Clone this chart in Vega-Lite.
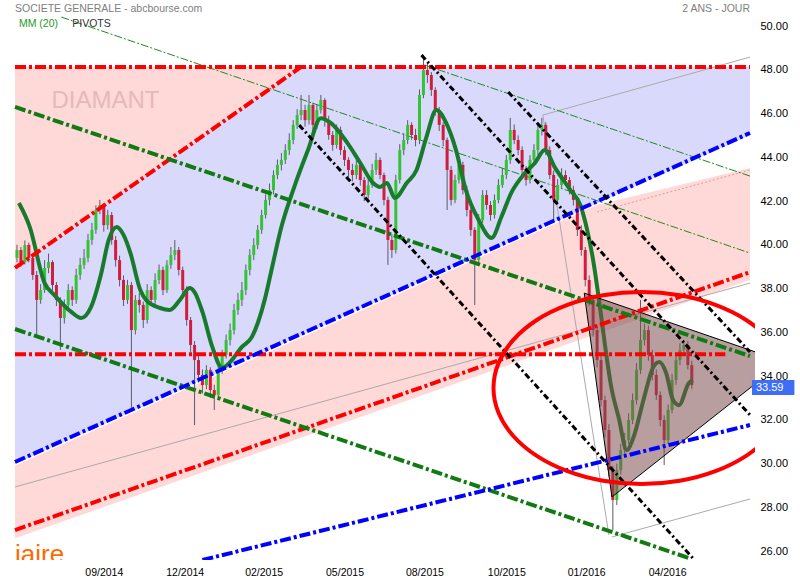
{
"$schema":"https://vega.github.io/schema/vega-lite/v6.json",
"width":745,"height":560,
"autosize":{"type":"none"},
"padding":{"left":10,"top":0,"right":45,"bottom":20},
"background":"white",
"config":{"view":{"stroke":null},"axis":{"labelFont":"Liberation Sans"},"text":{"font":"Liberation Sans"}},
"datasets":{
"candles":[
{"t":2,"o":39.40,"h":40.0,"l":39.2,"c":39.76},{"t":6,"o":39.76,"h":39.9,"l":39.0,"c":39.21},{"t":10,"o":39.21,"h":40.2,"l":39.1,"c":39.99},{"t":14,"o":39.99,"h":40.1,"l":39.2,"c":39.40},{"t":18,"o":39.40,"h":39.5,"l":38.4,"c":38.62},{"t":22,"o":38.62,"h":38.8,"l":35.88,"c":37.48},{"t":26,"o":37.48,"h":38.2,"l":37.3,"c":37.93},{"t":30,"o":37.93,"h":39.3,"l":37.8,"c":38.94},{"t":34,"o":38.94,"h":39.6,"l":38.7,"c":39.21},{"t":38,"o":39.21,"h":39.3,"l":37.9,"c":38.16},
{"t":42,"o":38.16,"h":38.3,"l":37.2,"c":37.48},{"t":46,"o":37.48,"h":37.6,"l":35.19,"c":36.65},{"t":50,"o":36.65,"h":37.5,"l":36.4,"c":37.25},{"t":54,"o":37.25,"h":38.2,"l":37.1,"c":37.93},{"t":58,"o":37.93,"h":38.1,"l":37.2,"c":37.48},{"t":62,"o":37.48,"h":38.9,"l":37.3,"c":38.62},{"t":66,"o":38.62,"h":39.4,"l":38.4,"c":39.08},{"t":70,"o":39.08,"h":39.8,"l":38.9,"c":39.40},{"t":74,"o":39.40,"h":40.5,"l":39.2,"c":40.22},{"t":78,"o":40.22,"h":41.0,"l":40.0,"c":40.68},
{"t":82,"o":40.68,"h":41.8,"l":40.5,"c":41.59},{"t":86,"o":41.59,"h":42.05,"l":41.4,"c":41.82},{"t":90,"o":41.82,"h":41.9,"l":40.6,"c":40.90},{"t":94,"o":40.90,"h":41.6,"l":40.7,"c":41.36},{"t":98,"o":41.36,"h":41.5,"l":40.0,"c":40.22},{"t":102,"o":40.22,"h":40.4,"l":39.0,"c":39.30},{"t":106,"o":39.30,"h":39.5,"l":38.1,"c":38.39},{"t":110,"o":38.39,"h":38.6,"l":37.2,"c":37.48},{"t":114,"o":37.48,"h":38.4,"l":37.3,"c":38.16},{"t":118,"o":38.16,"h":38.3,"l":32.54,"c":36.10},
{"t":122,"o":36.10,"h":37.7,"l":35.9,"c":37.48},{"t":126,"o":37.48,"h":37.8,"l":36.9,"c":37.25},{"t":130,"o":37.25,"h":37.4,"l":36.2,"c":36.56},{"t":134,"o":36.56,"h":38.2,"l":36.4,"c":37.93},{"t":138,"o":37.93,"h":38.1,"l":37.2,"c":37.48},{"t":142,"o":37.48,"h":38.7,"l":37.3,"c":38.39},{"t":146,"o":38.39,"h":39.1,"l":38.2,"c":38.85},{"t":150,"o":38.85,"h":39.0,"l":37.7,"c":37.93},{"t":154,"o":37.93,"h":39.3,"l":37.8,"c":39.08},{"t":158,"o":39.08,"h":39.9,"l":38.9,"c":39.53},
{"t":162,"o":39.53,"h":40.22,"l":39.3,"c":39.76},{"t":166,"o":39.76,"h":39.9,"l":38.6,"c":38.85},{"t":170,"o":38.85,"h":39.0,"l":37.7,"c":37.93},{"t":174,"o":37.93,"h":38.1,"l":36.3,"c":36.56},{"t":178,"o":36.56,"h":36.7,"l":35.1,"c":35.42},{"t":182,"o":35.42,"h":35.6,"l":31.76,"c":34.73},{"t":186,"o":34.73,"h":35.0,"l":33.7,"c":34.05},{"t":190,"o":34.05,"h":34.3,"l":33.2,"c":33.59},{"t":194,"o":33.59,"h":34.5,"l":33.4,"c":34.28},{"t":198,"o":34.28,"h":34.4,"l":33.0,"c":33.36},
{"t":202,"o":33.36,"h":33.6,"l":32.45,"c":33.13},{"t":206,"o":33.13,"h":34.5,"l":33.0,"c":34.28},{"t":210,"o":34.28,"h":35.2,"l":34.1,"c":34.96},{"t":214,"o":34.96,"h":35.9,"l":34.8,"c":35.65},{"t":218,"o":35.65,"h":36.4,"l":35.4,"c":36.10},{"t":222,"o":36.10,"h":37.3,"l":35.9,"c":37.02},{"t":226,"o":37.02,"h":37.8,"l":36.8,"c":37.48},{"t":230,"o":37.48,"h":38.3,"l":37.2,"c":37.93},{"t":234,"o":37.93,"h":39.1,"l":37.7,"c":38.85},{"t":238,"o":38.85,"h":39.8,"l":38.6,"c":39.53},
{"t":242,"o":39.53,"h":40.3,"l":39.3,"c":39.99},{"t":246,"o":39.99,"h":40.9,"l":39.8,"c":40.68},{"t":250,"o":40.68,"h":41.6,"l":40.5,"c":41.36},{"t":254,"o":41.36,"h":42.3,"l":41.2,"c":42.05},{"t":258,"o":42.05,"h":42.8,"l":41.8,"c":42.50},{"t":262,"o":42.50,"h":43.4,"l":42.3,"c":43.19},{"t":266,"o":43.19,"h":43.9,"l":43.0,"c":43.65},{"t":270,"o":43.65,"h":44.2,"l":43.4,"c":43.88},{"t":274,"o":43.88,"h":44.6,"l":43.7,"c":44.33},{"t":278,"o":44.33,"h":45.1,"l":44.1,"c":44.79},
{"t":282,"o":44.79,"h":45.7,"l":44.6,"c":45.48},{"t":286,"o":45.48,"h":46.2,"l":45.3,"c":45.93},{"t":290,"o":45.93,"h":46.85,"l":45.7,"c":46.16},{"t":294,"o":46.16,"h":46.4,"l":45.4,"c":45.70},{"t":298,"o":45.70,"h":46.85,"l":45.5,"c":46.39},{"t":302,"o":46.39,"h":46.5,"l":45.2,"c":45.48},{"t":306,"o":45.48,"h":46.4,"l":45.3,"c":46.16},{"t":310,"o":46.16,"h":46.85,"l":46.0,"c":46.62},{"t":314,"o":46.62,"h":46.7,"l":45.4,"c":45.70},{"t":318,"o":45.70,"h":45.9,"l":44.8,"c":45.02},
{"t":322,"o":45.02,"h":45.2,"l":44.3,"c":44.56},{"t":326,"o":44.56,"h":45.5,"l":44.4,"c":45.25},{"t":330,"o":45.25,"h":45.4,"l":44.1,"c":44.33},{"t":334,"o":44.33,"h":44.5,"l":43.6,"c":43.88},{"t":338,"o":43.88,"h":44.0,"l":43.1,"c":43.42},{"t":342,"o":43.42,"h":43.7,"l":42.9,"c":43.19},{"t":346,"o":43.19,"h":43.9,"l":43.0,"c":43.65},{"t":350,"o":43.65,"h":43.8,"l":42.7,"c":42.96},{"t":354,"o":42.96,"h":43.1,"l":42.0,"c":42.28},{"t":358,"o":42.28,"h":43.0,"l":42.1,"c":42.73},
{"t":362,"o":42.73,"h":43.7,"l":42.6,"c":43.42},{"t":366,"o":43.42,"h":44.2,"l":43.2,"c":43.88},{"t":370,"o":43.88,"h":44.0,"l":43.0,"c":43.19},{"t":374,"o":43.19,"h":43.3,"l":41.8,"c":42.05},{"t":378,"o":42.05,"h":42.2,"l":39.08,"c":40.22},{"t":382,"o":40.22,"h":40.5,"l":39.4,"c":39.76},{"t":386,"o":39.76,"h":43.2,"l":39.6,"c":42.96},{"t":390,"o":42.96,"h":44.6,"l":42.8,"c":44.33},{"t":394,"o":44.33,"h":45.1,"l":44.1,"c":44.79},{"t":398,"o":44.79,"h":45.7,"l":44.6,"c":45.48},
{"t":402,"o":45.48,"h":45.6,"l":44.8,"c":45.02},{"t":406,"o":45.02,"h":45.3,"l":44.5,"c":44.79},{"t":410,"o":44.79,"h":47.1,"l":44.6,"c":46.85},{"t":414,"o":46.85,"h":48.68,"l":46.7,"c":47.99},{"t":418,"o":47.99,"h":48.3,"l":47.4,"c":47.76},{"t":422,"o":47.76,"h":47.9,"l":46.8,"c":47.08},{"t":426,"o":47.08,"h":47.2,"l":45.9,"c":46.16},{"t":430,"o":46.16,"h":46.3,"l":45.2,"c":45.48},{"t":434,"o":45.48,"h":45.6,"l":44.5,"c":44.79},{"t":438,"o":44.79,"h":44.9,"l":41.59,"c":43.42},
{"t":442,"o":43.42,"h":43.6,"l":41.8,"c":42.05},{"t":446,"o":42.05,"h":43.2,"l":41.9,"c":42.96},{"t":450,"o":42.96,"h":43.9,"l":42.8,"c":43.65},{"t":454,"o":43.65,"h":43.8,"l":42.3,"c":42.50},{"t":458,"o":42.50,"h":42.7,"l":41.3,"c":41.59},{"t":462,"o":41.59,"h":41.8,"l":40.4,"c":40.68},{"t":466,"o":40.68,"h":40.8,"l":37.25,"c":39.30},{"t":470,"o":39.30,"h":41.4,"l":39.1,"c":41.13},{"t":474,"o":41.13,"h":42.5,"l":41.0,"c":42.28},{"t":478,"o":42.28,"h":42.5,"l":41.6,"c":41.82},
{"t":482,"o":41.82,"h":42.0,"l":41.1,"c":41.36},{"t":486,"o":41.36,"h":42.3,"l":41.2,"c":42.05},{"t":490,"o":42.05,"h":43.0,"l":41.9,"c":42.73},{"t":494,"o":42.73,"h":43.5,"l":42.6,"c":43.19},{"t":498,"o":43.19,"h":44.1,"l":43.0,"c":43.88},{"t":502,"o":43.88,"h":45.8,"l":43.7,"c":45.25},{"t":506,"o":45.25,"h":45.5,"l":44.6,"c":44.79},{"t":510,"o":44.79,"h":45.0,"l":44.1,"c":44.33},{"t":514,"o":44.33,"h":44.5,"l":43.2,"c":43.42},{"t":518,"o":43.42,"h":43.6,"l":42.7,"c":42.96},
{"t":522,"o":42.96,"h":44.1,"l":42.8,"c":43.88},{"t":526,"o":43.88,"h":44.6,"l":43.7,"c":44.33},{"t":530,"o":44.33,"h":45.5,"l":44.1,"c":45.25},{"t":534,"o":45.25,"h":45.8,"l":45.0,"c":45.48},{"t":538,"o":45.48,"h":45.6,"l":44.1,"c":44.33},{"t":542,"o":44.33,"h":44.5,"l":43.0,"c":43.19},{"t":546,"o":43.19,"h":43.4,"l":41.13,"c":42.05},{"t":550,"o":42.05,"h":43.0,"l":41.9,"c":42.73},{"t":554,"o":42.73,"h":43.5,"l":42.6,"c":43.19},{"t":558,"o":43.19,"h":43.4,"l":42.7,"c":42.96},
{"t":562,"o":42.96,"h":43.1,"l":42.3,"c":42.50},{"t":566,"o":42.50,"h":42.7,"l":41.8,"c":42.05},{"t":570,"o":42.05,"h":42.2,"l":40.4,"c":40.68},{"t":574,"o":40.68,"h":40.9,"l":39.5,"c":39.76},{"t":578,"o":39.76,"h":39.9,"l":38.1,"c":38.39},{"t":582,"o":38.39,"h":38.6,"l":37.2,"c":37.48},{"t":586,"o":37.48,"h":37.7,"l":35.8,"c":36.10},{"t":590,"o":36.10,"h":36.3,"l":34.4,"c":34.73},{"t":594,"o":34.73,"h":35.0,"l":32.6,"c":32.90},{"t":598,"o":32.90,"h":33.1,"l":31.2,"c":31.53},
{"t":602,"o":31.53,"h":31.8,"l":29.4,"c":29.70},{"t":606,"o":29.70,"h":29.9,"l":26.96,"c":28.33},{"t":610,"o":28.33,"h":30.0,"l":28.1,"c":29.70},{"t":614,"o":29.70,"h":30.9,"l":29.5,"c":30.62},{"t":618,"o":30.62,"h":31.4,"l":30.4,"c":31.07},{"t":622,"o":31.07,"h":32.3,"l":30.9,"c":31.99},{"t":626,"o":31.99,"h":33.2,"l":31.8,"c":32.90},{"t":630,"o":32.90,"h":34.6,"l":32.7,"c":34.28},{"t":634,"o":34.28,"h":37.48,"l":34.1,"c":35.65},{"t":638,"o":35.65,"h":36.4,"l":35.4,"c":36.10},
{"t":642,"o":36.10,"h":36.3,"l":34.7,"c":34.96},{"t":646,"o":34.96,"h":35.2,"l":33.8,"c":34.05},{"t":650,"o":34.05,"h":34.3,"l":32.9,"c":33.13},{"t":654,"o":33.13,"h":33.3,"l":31.7,"c":31.99},{"t":658,"o":31.99,"h":32.2,"l":29.93,"c":31.07},{"t":662,"o":31.07,"h":32.7,"l":30.9,"c":32.45},{"t":666,"o":32.45,"h":34.1,"l":32.3,"c":33.82},{"t":670,"o":33.82,"h":35.0,"l":33.6,"c":34.73},{"t":674,"o":34.73,"h":35.5,"l":34.5,"c":35.19},{"t":678,"o":35.19,"h":35.65,"l":35.0,"c":35.42},
{"t":682,"o":35.42,"h":35.6,"l":34.3,"c":34.50},{"t":686,"o":34.50,"h":34.7,"l":33.4,"c":33.59}
],
"ma":[
{"t":4,"p":41.91},{"t":15,"p":40.81},{"t":30,"p":38.25},{"t":40,"p":37.70},{"t":57,"p":36.93},{"t":67,"p":36.65},{"t":77,"p":37.15},{"t":87,"p":38.62},{"t":95,"p":40.22},{"t":103,"p":40.81},{"t":110,"p":40.45},{"t":117,"p":39.62},{"t":127,"p":37.93},{"t":133,"p":37.47},{"t":147,"p":37.11},{"t":157,"p":37.02},{"t":167,"p":37.47},{"t":177,"p":38.02},{"t":182,"p":37.84},{"t":190,"p":36.93},{"t":200,"p":35.33},{"t":210,"p":34.37},{"t":217,"p":34.59},{"t":230,"p":35.33},{"t":240,"p":35.78},{"t":253,"p":37.47},{"t":260,"p":38.85},{"t":270,"p":40.81},{"t":283,"p":42.64},{"t":297,"p":44.33},{"t":310,"p":45.79},{"t":320,"p":45.57},{"t":337,"p":44.65},{"t":350,"p":43.74},{"t":363,"p":42.82},{"t":370,"p":42.64},{"t":377,"p":42.82},{"t":385,"p":42.14},{"t":397,"p":42.82},{"t":407,"p":43.42},{"t":417,"p":44.92},{"t":427,"p":46.16},{"t":437,"p":45.57},{"t":447,"p":44.33},{"t":457,"p":42.50},{"t":470,"p":41.13},{"t":483,"p":40.31},{"t":493,"p":41.27},{"t":503,"p":42.37},{"t":517,"p":43.28},{"t":527,"p":43.74},{"t":537,"p":44.33},{"t":547,"p":43.55},{"t":563,"p":42.50},{"t":573,"p":41.82},{"t":580,"p":40.67},{"t":586,"p":39.30},{"t":592,"p":37.47},{"t":598,"p":35.42},{"t":604,"p":33.59},{"t":612,"p":32.08},{"t":620,"p":30.62},{"t":627,"p":31.21},{"t":637,"p":32.90},{"t":647,"p":34.41},{"t":653,"p":34.64},{"t":660,"p":34.14},{"t":667,"p":32.90},{"t":673,"p":32.67},{"t":683,"p":33.68},{"t":687,"p":33.82}
],
"lines":[
{"id":"rTop","g":"red","t":0,"p":48.13},{"id":"rTop","g":"red","t":745,"p":48.13},
{"id":"rH","g":"red","t":0,"p":35.0},{"id":"rH","g":"red","t":720,"p":35.0},
{"id":"rU1","g":"red","t":0,"p":38.94},{"id":"rU1","g":"red","t":290,"p":48.13},
{"id":"rU2","g":"red","t":0,"p":26.96},{"id":"rU2","g":"red","t":745,"p":38.75},
{"id":"b1","g":"blue","t":0,"p":30.07},{"id":"b1","g":"blue","t":745,"p":45.11},
{"id":"b2","g":"blue","t":190,"p":25.59},{"id":"b2","g":"blue","t":745,"p":31.76},
{"id":"g1","g":"green","t":0,"p":46.30},{"id":"g1","g":"green","t":745,"p":34.91},
{"id":"g2","g":"green","t":0,"p":36.15},{"id":"g2","g":"green","t":683,"p":25.68},
{"id":"k1","g":"black","t":412,"p":48.67},{"id":"k1","g":"black","t":745,"p":32.22},
{"id":"k2","g":"black","t":500,"p":46.98},{"id":"k2","g":"black","t":745,"p":35.10},
{"id":"k3","g":"black","t":288,"p":45.47},{"id":"k3","g":"black","t":687,"p":25.68},
{"id":"t1","g":"tgreen","t":47,"p":50.41},{"id":"t1","g":"tgreen","t":745,"p":39.62},
{"id":"t2","g":"tgreen","t":415,"p":48.22},{"id":"t2","g":"tgreen","t":745,"p":43.14},
{"id":"gr1","g":"grey","t":535,"p":45.93},{"id":"gr1","g":"grey","t":745,"p":48.58},
{"id":"gr2","g":"grey","t":535,"p":45.93},{"id":"gr2","g":"grey","t":602,"p":26.73},
{"id":"gr3","g":"grey","t":605,"p":26.64},{"id":"gr3","g":"grey","t":745,"p":28.38},
{"id":"gr4","g":"grey","t":0,"p":28.93},{"id":"gr4","g":"grey","t":745,"p":38.25},
{"id":"gr5","g":"pinkdot","t":590,"p":41.50},{"id":"gr5","g":"pinkdot","t":745,"p":43.42}
],
"bands":[
{"id":"pinkTri","t":0,"top":48.13,"bot":38.94},{"id":"pinkTri","t":290,"top":48.13,"bot":48.13},
{"id":"lav","t":0,"top":38.94,"bot":29.98},{"id":"lav","t":290,"top":48.13,"bot":35.85},{"id":"lav","t":745,"top":48.13,"bot":45.02},
{"id":"pinkBand","t":0,"top":29.9,"bot":26.59},{"id":"pinkBand","t":590,"top":41.82,"bot":35.93},{"id":"pinkBand","t":745,"top":43.51,"bot":38.39}
],
"tri":[
{"k":0,"t":577,"top":37.79,"bot":37.79,"p":37.79},{"k":1,"t":779,"top":34.66,"bot":34.66,"p":34.66},{"k":2,"t":605,"top":37.36,"bot":28.47,"p":28.47}
],
"ellipse":[
{"k":0,"t":785,"p":33.45},{"k":1,"t":779.9,"p":32.32},{"k":2,"t":764.9,"p":31.26},{"k":3,"t":741.1,"p":30.35},{"k":4,"t":710,"p":29.65},{"k":5,"t":673.8,"p":29.21},{"k":6,"t":635,"p":29.06},{"k":7,"t":596.2,"p":29.21},{"k":8,"t":560,"p":29.65},{"k":9,"t":528.9,"p":30.35},{"k":10,"t":505.1,"p":31.26},{"k":11,"t":490.1,"p":32.32},{"k":12,"t":485,"p":33.45},{"k":13,"t":490.1,"p":34.59},{"k":14,"t":505.1,"p":35.65},{"k":15,"t":528.9,"p":36.56},{"k":16,"t":560,"p":37.25},{"k":17,"t":596.2,"p":37.69},{"k":18,"t":635,"p":37.84},{"k":19,"t":673.8,"p":37.69},{"k":20,"t":710,"p":37.25},{"k":21,"t":741.1,"p":36.56},{"k":22,"t":764.9,"p":35.65},{"k":23,"t":779.9,"p":34.59}
]
},
"encoding":{
"x":{"field":"t","type":"quantitative","scale":{"domain":[0,745],"nice":false,"zero":false},
 "axis":{"orient":"bottom","values":[90,172,252,334,415,498,579,661],"labelExpr":"datum.value==90?'09/2014':datum.value==172?'12/2014':datum.value==252?'02/2015':datum.value==334?'05/2015':datum.value==415?'08/2015':datum.value==498?'10/2015':datum.value==579?'01/2016':'04/2016'","domain":false,"ticks":false,"grid":false,"labelPadding":7,"labelFontSize":10.5,"labelColor":"#000000","title":null,"labelFlush":false}},
"y":{"field":"p","type":"quantitative","scale":{"domain":[25.59,51.19],"nice":false,"zero":false},
 "axis":{"orient":"right","values":[26,28,30,32,34,36,38,40,42,44,46,48,50],"format":".2f","domain":false,"ticks":false,"grid":false,"labelPadding":5,"labelFontSize":11,"labelColor":"#000000","title":null}}
},
"layer":[
{"data":{"name":"bands"},"transform":[{"filter":"datum.id=='pinkTri'"}],"mark":{"type":"area","color":"#ffd8d8","opacity":1,"clip":true},"encoding":{"y":{"field":"top","type":"quantitative","scale":{"domain":[25.59,51.19],"nice":false,"zero":false},"axis":{"orient":"right","values":[26,28,30,32,34,36,38,40,42,44,46,48,50],"format":".2f","domain":false,"ticks":false,"grid":false,"labelPadding":5,"labelFontSize":11,"labelColor":"#000000","title":null}},"y2":{"field":"bot"}}},
{"data":{"name":"bands"},"transform":[{"filter":"datum.id=='lav'"}],"mark":{"type":"area","color":"#d9d9fb","opacity":1,"clip":true},"encoding":{"y":{"field":"top","type":"quantitative","scale":{"domain":[25.59,51.19],"nice":false,"zero":false},"axis":{"orient":"right","values":[26,28,30,32,34,36,38,40,42,44,46,48,50],"format":".2f","domain":false,"ticks":false,"grid":false,"labelPadding":5,"labelFontSize":11,"labelColor":"#000000","title":null}},"y2":{"field":"bot"}}},
{"data":{"name":"bands"},"transform":[{"filter":"datum.id=='pinkBand'"}],"mark":{"type":"area","color":"#ffd8d8","opacity":1,"clip":true},"encoding":{"y":{"field":"top","type":"quantitative","scale":{"domain":[25.59,51.19],"nice":false,"zero":false},"axis":{"orient":"right","values":[26,28,30,32,34,36,38,40,42,44,46,48,50],"format":".2f","domain":false,"ticks":false,"grid":false,"labelPadding":5,"labelFontSize":11,"labelColor":"#000000","title":null}},"y2":{"field":"bot"}}},
{"data":{"values":[{"t":37,"p":46.58,"s":"DIAMANT"}]},"mark":{"type":"text","align":"left","baseline":"middle","fontSize":24,"color":"#e6b8b8"},"encoding":{"text":{"field":"s"}}},
{"data":{"name":"lines"},"transform":[{"filter":"datum.g=='grey'"}],"mark":{"type":"line","color":"#aaaaaa","strokeWidth":1,"clip":true},"encoding":{"detail":{"field":"id"}}},
{"data":{"name":"lines"},"transform":[{"filter":"datum.g=='pinkdot'"}],"mark":{"type":"line","color":"#d9a0a0","strokeWidth":1,"strokeDash":[2,2],"clip":true},"encoding":{"detail":{"field":"id"}}},
{"data":{"name":"lines"},"transform":[{"filter":"datum.g=='tgreen'"}],"mark":{"type":"line","color":"#1f8a1f","strokeWidth":1,"strokeDash":[8,2,2,2],"clip":true},"encoding":{"detail":{"field":"id"}}},
{"data":{"name":"candles"},"mark":{"type":"rule","color":"#5a5a6e","strokeWidth":1},"encoding":{"y":{"field":"l","type":"quantitative","scale":{"domain":[25.59,51.19],"nice":false,"zero":false},"axis":{"orient":"right","values":[26,28,30,32,34,36,38,40,42,44,46,48,50],"format":".2f","domain":false,"ticks":false,"grid":false,"labelPadding":5,"labelFontSize":11,"labelColor":"#000000","title":null}},"y2":{"field":"h"}}},
{"data":{"name":"candles"},"mark":{"type":"bar","width":3},"encoding":{"y":{"field":"o","type":"quantitative","scale":{"domain":[25.59,51.19],"nice":false,"zero":false},"axis":{"orient":"right","values":[26,28,30,32,34,36,38,40,42,44,46,48,50],"format":".2f","domain":false,"ticks":false,"grid":false,"labelPadding":5,"labelFontSize":11,"labelColor":"#000000","title":null}},"y2":{"field":"c"},"color":{"condition":{"test":"datum.c>=datum.o","value":"#33c433"},"value":"#d11c3c"}}},
{"data":{"name":"ma"},"mark":{"type":"line","color":"#187a2c","strokeWidth":4,"interpolate":"monotone"}},
{"data":{"name":"tri"},"mark":{"type":"area","color":"#7d4f4f","opacity":0.55,"clip":true},"encoding":{"y":{"field":"top","type":"quantitative","scale":{"domain":[25.59,51.19],"nice":false,"zero":false},"axis":{"orient":"right","values":[26,28,30,32,34,36,38,40,42,44,46,48,50],"format":".2f","domain":false,"ticks":false,"grid":false,"labelPadding":5,"labelFontSize":11,"labelColor":"#000000","title":null}},"y2":{"field":"bot"}}},
{"data":{"name":"tri"},"mark":{"type":"line","color":"#000000","strokeWidth":1,"interpolate":"linear-closed","clip":true},"encoding":{"order":{"field":"k"}}},
{"data":{"name":"lines"},"transform":[{"filter":"datum.g=='red'"}],"mark":{"type":"line","color":"#ff0000","strokeWidth":4,"strokeDash":[11,3,3,3],"clip":true},"encoding":{"detail":{"field":"id"}}},
{"data":{"name":"lines"},"transform":[{"filter":"datum.g=='green'"}],"mark":{"type":"line","color":"#127a12","strokeWidth":4,"strokeDash":[11,3,3,3],"clip":true},"encoding":{"detail":{"field":"id"}}},
{"data":{"name":"lines"},"transform":[{"filter":"datum.g=='blue'"}],"mark":{"type":"line","color":"#0000ff","strokeWidth":4,"strokeDash":[11,3,3,3],"clip":true},"encoding":{"detail":{"field":"id"}}},
{"data":{"name":"lines"},"transform":[{"filter":"datum.g=='black'"}],"mark":{"type":"line","color":"#000000","strokeWidth":3,"strokeDash":[6,3,2,3],"clip":true},"encoding":{"detail":{"field":"id"}}},
{"data":{"name":"ellipse"},"mark":{"type":"line","color":"#ff0000","strokeWidth":4,"interpolate":"cardinal-closed","clip":true},"encoding":{"order":{"field":"k"}}},
{"data":{"values":[{"t":0,"p":50.78,"s":"SOCIETE GENERALE - abcbourse.com"}]},"mark":{"type":"text","align":"left","baseline":"middle","fontSize":10.5,"color":"#808080"},"encoding":{"text":{"field":"s"}}},
{"data":{"values":[{"t":4,"p":50.1,"s":"MM (20)"}]},"mark":{"type":"text","align":"left","baseline":"middle","fontSize":10.5,"color":"#1f9a1f"},"encoding":{"text":{"field":"s"}}},
{"data":{"values":[{"t":58,"p":50.1,"s":"PIVOTS"}]},"mark":{"type":"text","align":"left","baseline":"middle","fontSize":10.5,"color":"#333333"},"encoding":{"text":{"field":"s"}}},
{"data":{"values":[{"t":745,"p":50.78,"s":"2 ANS - JOUR"}]},"mark":{"type":"text","align":"right","baseline":"middle","fontSize":10.5,"color":"#808080"},"encoding":{"text":{"field":"s"}}},
{"data":{"values":[{"t":0,"p":25.45,"s":"iaire"}]},"mark":{"type":"text","align":"left","baseline":"alphabetic","fontSize":26,"color":"#ff6a00","clip":true},"encoding":{"text":{"field":"s"}}},
{"data":{"values":[{"t":747,"t2":790,"p":33.82,"p2":33.13}]},"mark":{"type":"rect","color":"#3d6ef5"},"encoding":{"x2":{"field":"t2"},"y2":{"field":"p2"}}},
{"data":{"values":[{"t":751,"p":33.46,"s":"33.59"}]},"mark":{"type":"text","align":"left","baseline":"middle","fontSize":11,"color":"#ffffff"},"encoding":{"text":{"field":"s"}}}
]
}
